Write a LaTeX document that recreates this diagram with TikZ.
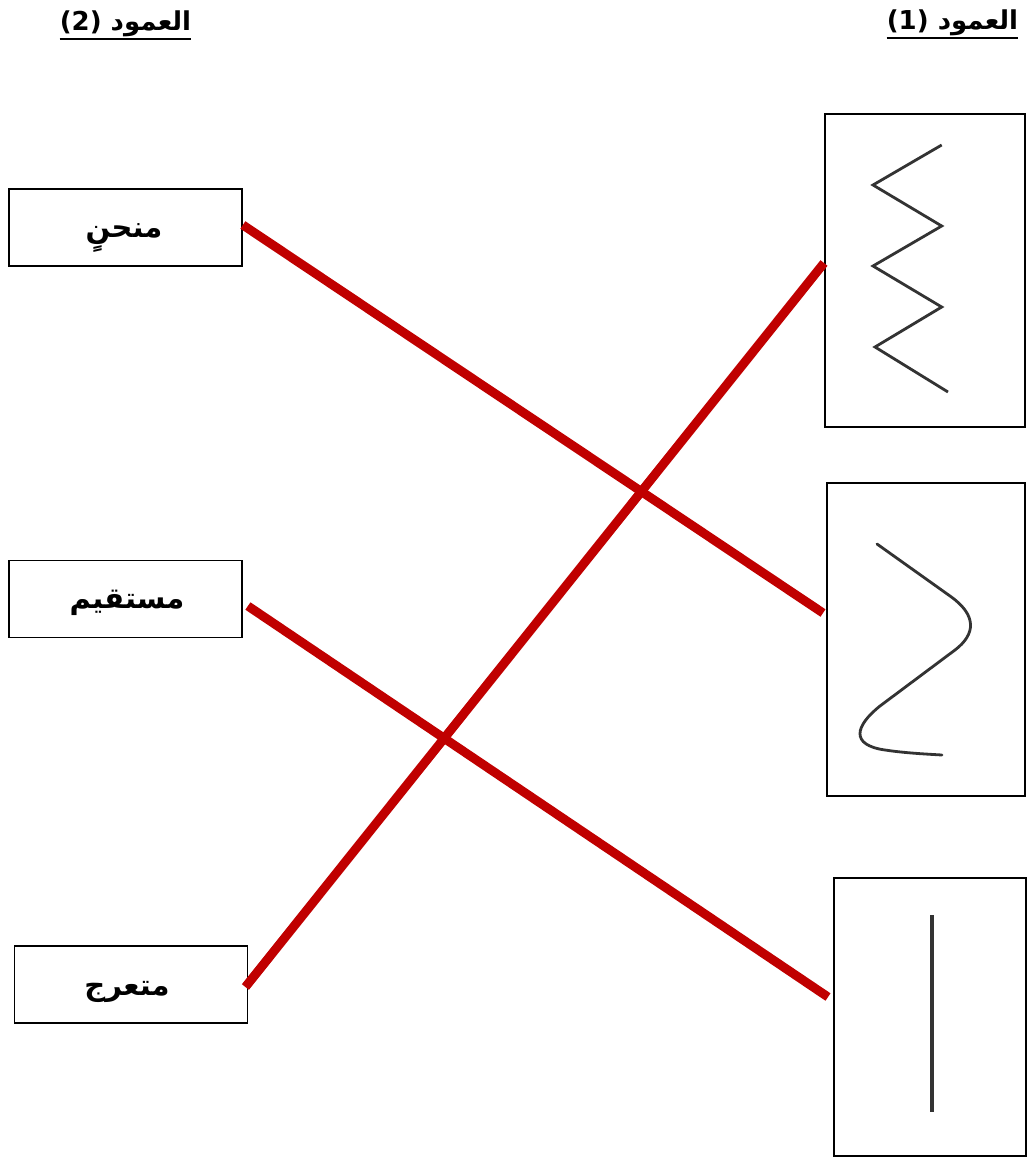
\documentclass[tikz,border=0pt]{standalone}
\usepackage{fontspec}
\usetikzlibrary{calc}
\TeXXeTstate=1
\newfontfamily\arabicfont[Script=Arabic]{DejaVu Sans}
\definecolor{linkred}{HTML}{C00000}
\begin{document}
\begin{tikzpicture}[x=1pt,y=-1pt,
  wordbox/.style={draw=black,line width=1.8pt,minimum width=233pt,minimum height=77pt,inner sep=0pt},
  wordtext/.style={inner sep=0pt,anchor=base,font=\arabicfont\bfseries\fontsize{29}{34}\selectfont},
  picbox/.style={draw=black,line width=2pt,inner sep=0pt},
  header/.style={inner xsep=0pt,inner ysep=2pt,anchor=south,font=\arabicfont\bfseries\fontsize{26}{30}\selectfont},
  uline/.style={line width=2.4pt,black},
  link/.style={linkred,line width=9pt},
  sketch/.style={black!80,line width=2.8pt,line join=miter}]
\useasboundingbox (0,0) rectangle (1026,1157);
\fill[white] (0,0) rectangle (1026,1157);
% headers
\node[header] (h2) at (125.5,39) {(2) \beginR العمود\endR};
\node[header] (h1) at (952.5,38) {(1) \beginR العمود\endR};
\draw[uline] (h2.south west) -- (h2.south east);
\draw[uline] (h1.south west) -- (h1.south east);
% word boxes
\node[wordbox] (b1) at (125.5,227.5) {};
\node[wordbox] (b2) at (125.5,599) {};
\node[wordbox] (b3) at (131,984.5) {};
\node[wordtext] (t1) at (124,237) {\beginR منحنٍ\endR};
\node[wordtext] (t2) at (127,608) {\beginR مستقيم\endR};
\node[wordtext] (t3) at (127,995) {\beginR متعرج\endR};
% picture boxes
\node[picbox,minimum width=200pt,minimum height=313pt] (pa) at (925,270) {};
\node[picbox,minimum width=198pt,minimum height=313pt] (pb) at (926,639.5) {};
\node[picbox,minimum width=192pt,minimum height=278pt] (pc) at (930,1016.5) {};
% zigzag
\draw[sketch] (941.7,145) -- (873,185) -- (941.7,226) -- (873,266) -- (941.7,307) -- (875,347) -- (948,392);
% curve
\draw[sketch,line cap=round] (877,544) -- (950,596) .. controls (977,615) and (976,634) .. (955,650)
  -- (880,706) .. controls (855,726) and (850,745) .. (885,750) .. controls (905,753) and (925,754) .. (942,755);
% straight line
\draw[black!80,line width=3.4pt] (932,915) -- (932,1112);
% connectors
\draw[link] ([yshift=2.5pt]b1.east) -- ([xshift=-3pt,yshift=26.5pt]pb.west);
\draw[link] ([yshift=7pt]pa.west) -- ([xshift=-3pt,yshift=-2.5pt]b3.east);
\draw[link] ([xshift=5pt,yshift=-7pt]b2.east) -- ([xshift=-5pt,yshift=19.5pt]pc.west);
\end{tikzpicture}
\end{document}
